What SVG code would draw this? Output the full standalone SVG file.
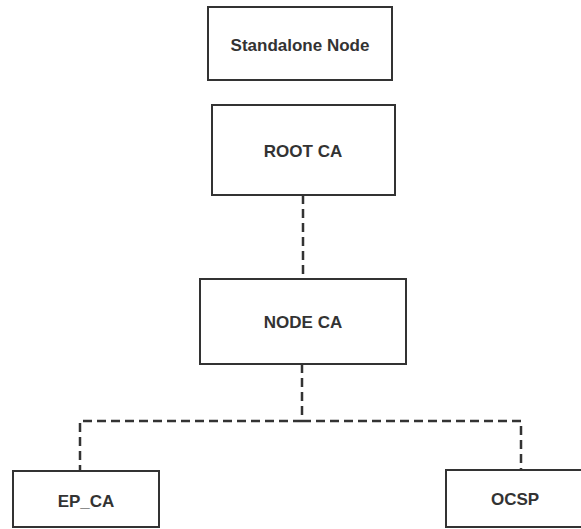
<svg xmlns="http://www.w3.org/2000/svg" width="581" height="529" viewBox="0 0 581 529">
<style>
.box{fill:#fff;stroke:#333;stroke-width:2}
.lbl{font-family:"Liberation Sans",Arial,sans-serif;font-weight:bold;font-size:17px;fill:#333;text-anchor:middle}
.conn{fill:none;stroke:#333;stroke-width:2.5;stroke-dasharray:9,5}
</style>
<rect width="581" height="529" fill="#fff"/>
<g id="connectors">
<path class="conn" d="M303,195 V279"/>
<path class="conn" d="M302,364 V421"/>
<path class="conn" d="M302,421 H80 V471"/>
<path class="conn" d="M302,421 H521 V470"/>
</g>
<g id="standalone">
<rect class="box" x="208" y="7" width="184" height="73"/>
<text class="lbl" x="300" y="51">Standalone Node</text>
</g>
<g id="root">
<rect class="box" x="212" y="105" width="183" height="90"/>
<text class="lbl" x="303" y="157">ROOT CA</text>
</g>
<g id="node">
<rect class="box" x="200" y="279" width="206" height="85"/>
<text class="lbl" x="303" y="328">NODE CA</text>
</g>
<g id="epca">
<rect class="box" x="13" y="471" width="146" height="56"/>
<text class="lbl" x="86" y="507">EP_CA</text>
</g>
<g id="ocsp">
<rect class="box" x="446" y="470" width="138" height="57"/>
<text class="lbl" x="515" y="505">OCSP</text>
</g>
</svg>
